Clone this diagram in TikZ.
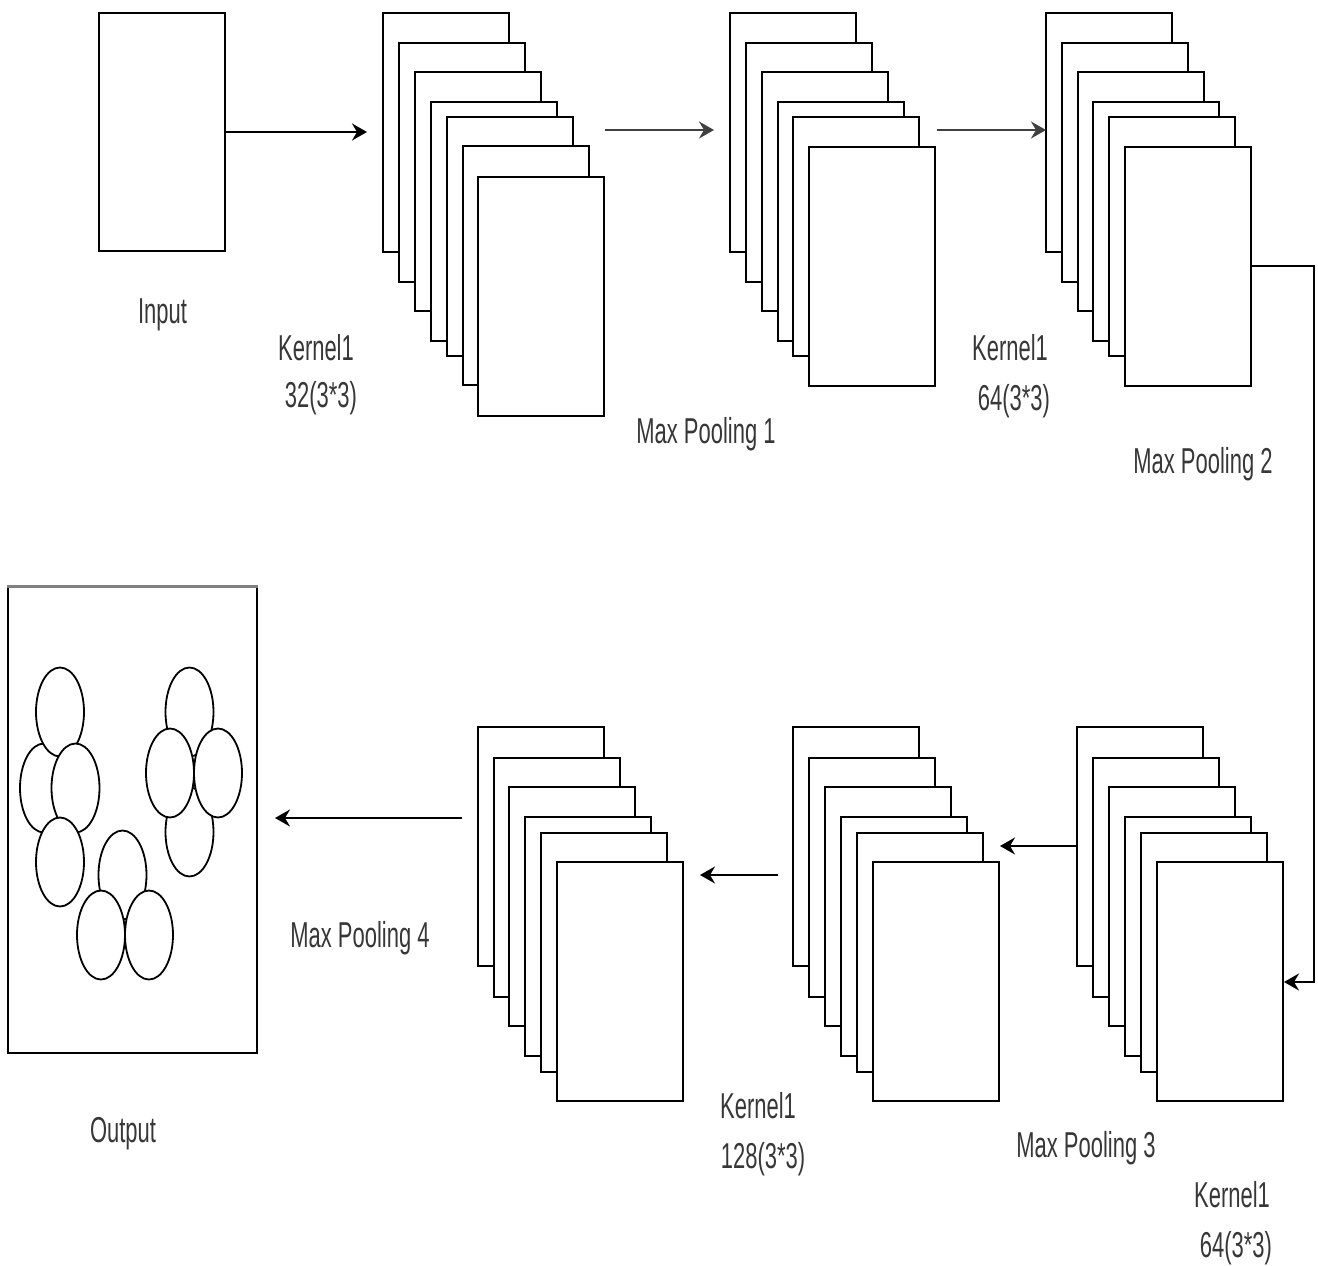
\documentclass[tikz,border=0pt]{standalone}
\usepackage{fontspec}
\usepackage{graphicx}
\setmainfont{Liberation Sans}
\usetikzlibrary{arrows.meta,shapes.geometric}
\definecolor{txt}{RGB}{55,55,55}
\newcommand{\lbl}[1]{\scalebox{0.61}[1]{#1}}
\begin{document}
\begin{tikzpicture}[x=1pt,y=-1pt,
  layer/.style={draw=black,fill=white,line width=2pt,rectangle,inner sep=0pt,minimum width=126pt,minimum height=239pt},
  blob/.style={draw=black,fill=white,line width=1.8pt,ellipse,inner sep=0pt,minimum width=48pt,minimum height=89pt},
  lab/.style={text=txt,inner sep=0pt,anchor=base,font=\fontsize{36}{43}\selectfont},
  conn/.style={line width=2pt,-{Stealth[length=15pt,width=17pt,inset=5pt]}}]
\fill[white] (0,0) rectangle (1318,1266);
\useasboundingbox (0,0) rectangle (1318,1266);
% input
\node[layer,minimum height=238pt] (input) at (162,132) {};
% stack 1
\foreach \x/\y [count=\i] in {383/13,399/43,415/72,431/102,447/117,463/146,478/177}
  \node[layer] (sa\i) at (\x+63,\y+119.5) {};
% stack 2
\foreach \x/\y [count=\i] in {730/13,746/43,762/72,778/102,793/117,809/147}
  \node[layer] (sb\i) at (\x+63,\y+119) {};
% stack 3
\foreach \x/\y [count=\i] in {1046/13,1062/43,1078/72,1093/102,1109/117,1125/147}
  \node[layer] (sc\i) at (\x+63,\y+119.5) {};
% stack 4 (bottom right)
\foreach \x/\y [count=\i] in {1077/727,1093/758,1109/787,1125/817,1141/833,1157/862}
  \node[layer] (sd\i) at (\x+63,\y+119) {};
% stack 5
\foreach \x/\y [count=\i] in {793/727,809/758,825/787,841/817,857/833,873/862}
  \node[layer] (se\i) at (\x+63,\y+119) {};
% stack 6
\foreach \x/\y [count=\i] in {478/727,494/758,509/787,525/817,541/833,557/862}
  \node[layer] (sf\i) at (\x+63,\y+119) {};
% output
\node[draw=black,fill=white,line width=2pt,rectangle,inner sep=0pt,minimum width=249pt,minimum height=466pt] (output) at (132.5,820) {};
\draw[gray,line width=3pt] (output.north west) -- (output.north east);
\node[blob] (c2) at (44,788) {};
\node[blob] (c1) at (60,712) {};
\node[blob] (c3) at (75.5,788) {};
\node[blob] (c4) at (60,862) {};
\node[blob] (c5) at (189.5,712) {};
\node[blob] (c8) at (189.5,832) {};
\node[blob] (c6) at (170,773) {};
\node[blob] (c7) at (218,773) {};
\node[blob] (c9) at (122.5,875) {};
\node[blob] (c10) at (101,935) {};
\node[blob] (c11) at (149,935) {};
% connectors
\coordinate (a1) at (367,132);
\draw[conn] (input.east) -- (a1);
\coordinate (a2s) at (605,130);
\coordinate (a2e) at (714,130);
\draw[conn,draw=black!75] (a2s) -- (a2e);
\coordinate (a3s) at (937,130);
\coordinate (a3e) at (1046,130);
\draw[conn,draw=black!75] (a3s) -- (a3e);
\coordinate (bend1) at (1314,266);
\coordinate (bend2) at (1314,982);
\draw[conn] (sc6.east |- bend1) -- (bend1) -- (bend2) -- (sd6.east |- bend2);
\coordinate (a4e) at (1000,846);
\draw[conn] (sd1.west |- a4e) -- (a4e);
\coordinate (a5s) at (778,875);
\coordinate (a5e) at (700,875);
\draw[conn] (a5s) -- (a5e);
\coordinate (a6s) at (462,818);
\coordinate (a6e) at (275,818);
\draw[conn] (a6s) -- (a6e);
% labels
\node[lab] (tin) at (162.5,323) {\lbl{Input}};
\node[lab] (tk1a) at (316,360) {\lbl{Kernel1}};
\node[lab] (tk1b) at (321,407) {\lbl{32(3*3)}};
\node[lab] (tmp1) at (706,443) {\lbl{Max Pooling 1}};
\node[lab] (tk2a) at (1010,360) {\lbl{Kernel1}};
\node[lab] (tk2b) at (1014,410) {\lbl{64(3*3)}};
\node[lab] (tmp2) at (1203,473) {\lbl{Max Pooling 2}};
\node[lab] (tmp4) at (360,947) {\lbl{Max Pooling 4}};
\node[lab] (tk3a) at (758,1118) {\lbl{Kernel1}};
\node[lab] (tk3b) at (763,1168) {\lbl{128(3*3)}};
\node[lab] (tmp3) at (1086,1157) {\lbl{Max Pooling 3}};
\node[lab] (tk4a) at (1232,1207) {\lbl{Kernel1}};
\node[lab] (tk4b) at (1236,1257) {\lbl{64(3*3)}};
\node[lab] (tout) at (123,1142) {\lbl{Output}};
\end{tikzpicture}
\end{document}
